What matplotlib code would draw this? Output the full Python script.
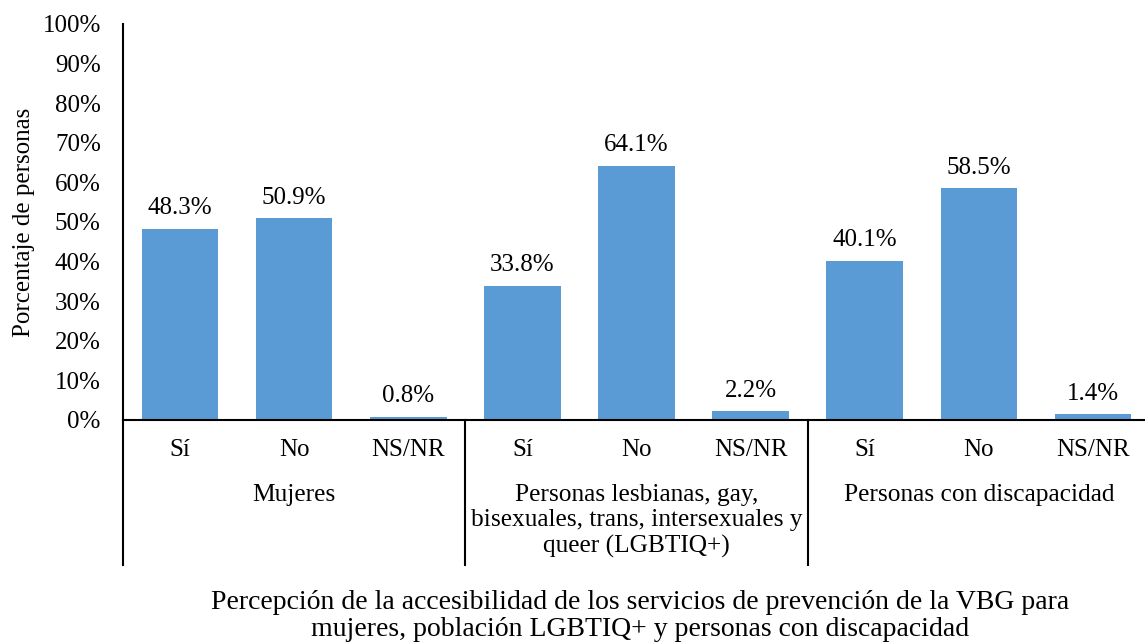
import matplotlib
matplotlib.use("Agg")
import matplotlib.pyplot as plt
import numpy as np

plt.rcParams['font.family'] = ['Liberation Serif', 'DejaVu Serif']

groups = ["Mujeres",
          "Personas lesbianas, gay,\nbisexuales, trans, intersexuales y\nqueer (LGBTIQ+)",
          "Personas con discapacidad"]
answers = ["Sí", "No", "NS/NR"]
mujeres = [48.3, 50.9, 0.8]
lgbtiq = [33.8, 64.1, 2.2]
discapacidad = [40.1, 58.5, 1.4]
yticks = list(range(0, 101, 10))
ylabel = "Porcentaje de personas"
xlabel = ("Percepción de la accesibilidad de los servicios de prevención de la VBG para\n"
          "mujeres, población LGBTIQ+ y personas con discapacidad")

values = mujeres + lgbtiq + discapacidad
x = np.arange(len(values))

W, H = 1145, 642
fig = plt.figure(figsize=(W / 100, H / 100), dpi=100)
ax = fig.add_axes([123 / W, (H - 420) / H, (1150 - 123) / W, 396 / H])

color = "#5B9BD5"
ax.bar(x, values, width=0.67, color=color, zorder=2)

fs = 18
for xi, v in zip(x, values):
    ax.annotate(f"{v:.1f}%", (xi, v), xytext=(0, 7), textcoords="offset points",
                ha="center", va="bottom", fontsize=fs)

ax.set_xlim(-0.5, len(values) - 0.5)
ax.set_ylim(0, 100)
ax.set_yticks(yticks)
ax.set_yticklabels([f"{t}%" for t in yticks], fontsize=fs)
ax.tick_params(axis="y", length=0, pad=16)
ax.set_xticks([])

for s in ["top", "right"]:
    ax.spines[s].set_visible(False)
for s in ["left", "bottom"]:
    ax.spines[s].set_linewidth(1.5)
    ax.spines[s].set_color("black")

trans = ax.get_xaxis_transform()
# category labels
for xi in x:
    ax.text(xi, -(450 - 420) / 396, answers[xi % 3], transform=trans,
            ha="center", va="center", fontsize=fs)
# group labels
for gi, g in enumerate(groups):
    ax.text(gi * 3 + 1, -(484 - 420) / 396, g, transform=trans,
            ha="center", va="top", fontsize=18.3, linespacing=1.2)
# separators
for gi in range(len(groups)):
    xs = gi * 3 - 0.5
    ax.plot([xs, xs], [0, -(565 - 420) / 396], transform=trans, color="black",
            lw=1.5, clip_on=False)

ax.set_ylabel(ylabel, fontsize=fs, labelpad=5)
fig.text(640 / W, 1 - 616 / H, xlabel, ha="center", va="center", fontsize=20,
         linespacing=1.13)

fig.savefig("out.png", dpi=100)
